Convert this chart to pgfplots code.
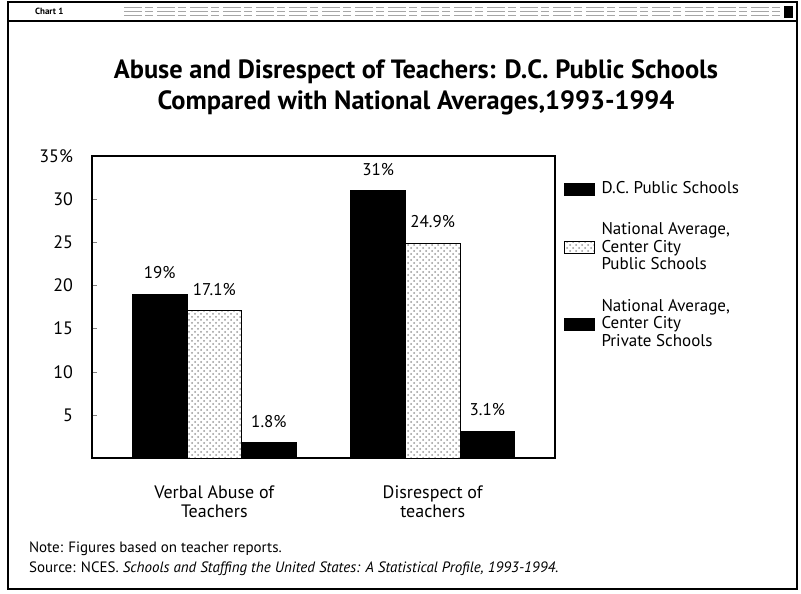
\documentclass[border=0pt]{standalone}
\usepackage{fontspec}
\setmainfont{PT Sans}
\usepackage{pgfplots}
\pgfplotsset{compat=1.18}
\usetikzlibrary{patterns}

\begin{document}
\begin{tikzpicture}
% page frame (1px = 0.5pt)
\useasboundingbox (0pt,0pt) rectangle (400.5pt,-296.5pt);
\draw[line width=0.9pt] (4pt,-1pt) rectangle (398.5pt,-294.5pt);
\draw[line width=0.6pt] (4pt,-10.5pt) -- (398.5pt,-10.5pt);
\node[font=\bfseries\fontsize{4.5}{5}\selectfont, anchor=west] at (14pt,-5.5pt) {Chart 1};
\foreach \yy in {-3.5,-5.5,-7.5}
  \draw[gray!70, line width=0.4pt, dash pattern=on 9pt off 1.5pt on 4pt off 2pt] (62pt,\yy pt) -- (390pt,\yy pt);
\fill (392pt,-3pt) rectangle (396.5pt,-9pt);

\node[font=\bfseries\fontsize{13.2}{15.5}\selectfont, align=center] at (208pt,-43.5pt)
  {Abuse and Disrespect of Teachers: D.C. Public Schools\\Compared with National Averages,1993-1994};

\begin{axis}[
  at={(46pt,-229pt)}, anchor=south west,
  scale only axis, width=231.5pt, height=151pt,
  ymin=0, ymax=35, xmin=0.44, xmax=2.56,
  ybar=0pt, bar width=0.25,
  axis line style={line width=0.7pt},
  ytick={5,10,15,20,25,30,35},
  yticklabels={5,10,15,20,25,30,35\%},
  ytick pos=left, tick align=inside, major tick length=2.5pt,
  xtick={1,2}, xtick style={draw=none},
  xticklabels={Verbal Abuse of\\Teachers, Disrespect of\\teachers},
  xticklabel style={align=center, yshift=-10.5pt, font=\fontsize{9}{9.2}\selectfont},
  yticklabel style={xshift=-6pt, font=\fontsize{9}{10}\selectfont},
  /pgf/number format/assume math mode=true,
  point meta=explicit symbolic,
  nodes near coords,
  nodes near coords style={font=\fontsize{8.5}{10}\selectfont, anchor=south, yshift=4pt},
  legend style={at={(1.018,0.93)}, anchor=north west, draw=none, fill=none,
    inner sep=0pt, font=\fontsize{8.5}{8.8}\selectfont,
    cells={anchor=west, align=left}, row sep=9pt},
  legend image code/.code={\draw[#1] (0pt,-3pt) rectangle (15pt,3pt); \path (16.5pt,0pt);},
]
\addplot[fill=black, draw=black] coordinates {(1,19) [19\%] (2,31) [31\%]};
\addlegendentry{D.C. Public Schools}
\addplot[fill=white, draw=black, postaction={pattern=crosshatch dots, pattern color=gray!80}]
  coordinates {(1,17.1) [17.1\%] (2,24.9) [24.9\%]};
\addlegendentry{National Average,\\Center City\\Public Schools}
\addplot[fill=black, draw=black] coordinates {(1,1.8) [1.8\%] (2,3.1) [3.1\%]};
\addlegendentry{National Average,\\Center City\\Private Schools}
\end{axis}

\node[anchor=west, font=\fontsize{7.5}{8}\selectfont] at (11pt,-274.5pt) {Note: Figures based on teacher reports.};
\node[anchor=west, font=\fontsize{7.5}{8}\selectfont] at (11pt,-284.5pt)
  {Source: NCES. \textit{Schools and Staffing the United States: A Statistical Profile, 1993-1994.}};
\end{tikzpicture}
\end{document}
